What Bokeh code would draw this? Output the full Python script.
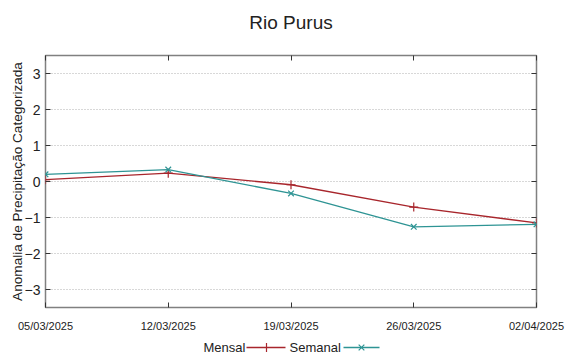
from bokeh.plotting import figure
from bokeh.layouts import column
from bokeh.models import Range1d, FixedTicker, LinearAxis, ColumnDataSource
from bokeh.core.properties import value
from bokeh.embed import file_html
from bokeh.resources import INLINE

title = "Rio Purus"
dates = ["05/03/2025", "12/03/2025", "19/03/2025", "26/03/2025", "02/04/2025"]
mensal = [0.05, 0.23, -0.09, -0.71, -1.15]
semanal = [0.20, 0.33, -0.33, -1.26, -1.19]
yticks = [-3, -2, -1, 0, 1, 2, 3]
series_names = ["Mensal", "Semanal"]

RED = "#a8262c"
TEAL = "#2e9494"
FONT = "Liberation Sans"
W = 576
BL, BR = 45, 40          # main frame borders (px); column aligns strip frames to it
FL, FR = BL, W - BR      # frame left/right in page pixels


def strip(h):
    # strips share the main frame's horizontal extent; range = page pixels
    f = figure(width=W, height=h, output_backend="svg", toolbar_location=None,
               x_range=Range1d(FL, FR), y_range=Range1d(0, h),
               x_axis_location=None, y_axis_location=None,
               min_border_left=BL, min_border_right=BR, min_border_top=0,
               min_border_bottom=0, outline_line_color=None)
    f.grid.visible = False
    return f


tt = strip(40)
tt.text(x=[290.5], y=[18], text=[title], text_align="center", text_baseline="middle",
        text_font=value(FONT), text_font_size="19px", text_color="#222222")

xs = list(range(len(dates)))
src = ColumnDataSource(dict(x=xs, m=mensal, s=semanal))

p = figure(width=W, height=300, output_backend="svg", toolbar_location=None,
           x_range=Range1d(0, len(dates) - 1), y_range=Range1d(-3.5, 3.5),
           min_border_left=BL, min_border_right=BR, min_border_top=15, min_border_bottom=33)
p.outline_line_color = "#808080"
p.outline_line_width = 1.5
p.xgrid.visible = False
p.ygrid.ticker = FixedTicker(ticks=yticks)
p.ygrid.grid_line_color = "#b0b0b0"
p.ygrid.grid_line_dash = "1 2"

xa = p.xaxis[0]
xa.ticker = FixedTicker(ticks=xs)
xa.major_label_overrides = {i: d for i, d in enumerate(dates)}
ya = p.yaxis[0]
ya.ticker = FixedTicker(ticks=yticks)
ya.axis_label = "Anomalia de Precipitação Categorizada"
for ax in (xa, ya):
    ax.axis_line_color = None
    ax.major_tick_in = 5
    ax.major_tick_out = 0
    ax.minor_tick_line_color = None
    ax.major_tick_line_color = "#333333"
    ax.major_label_text_font = FONT
    ax.major_label_text_color = "#222222"
xa.major_label_text_font_size = "11px"
xa.major_label_standoff = 12
ya.major_label_text_font_size = "14px"
ya.major_label_standoff = 5
ya.axis_label_text_font = FONT
ya.axis_label_text_font_size = "13.6px"
ya.axis_label_text_font_style = "normal"
ya.axis_label_text_color = "#222222"
ya.axis_label_standoff = -3

# mirrored ticks (no labels) on right and top, gnuplot style
ra = LinearAxis(ticker=FixedTicker(ticks=yticks), major_label_text_font_size="1px",
                major_label_text_color=None, major_label_standoff=0,
                axis_line_color=None, major_tick_in=5, major_tick_out=0,
                minor_tick_line_color=None, major_tick_line_color="#333333")
p.add_layout(ra, "right")
ta = LinearAxis(ticker=FixedTicker(ticks=xs), major_label_text_font_size="1px",
                major_label_text_color=None, major_label_standoff=0,
                axis_line_color=None, major_tick_in=5, major_tick_out=0,
                minor_tick_line_color=None, major_tick_line_color="#333333")
p.add_layout(ta, "above")

p.line("x", "m", source=src, line_color=RED, line_width=1.3)
p.scatter("x", "m", source=src, marker="cross", size=9, line_color=RED, line_width=1.2)
p.line("x", "s", source=src, line_color=TEAL, line_width=1.3)
p.scatter("x", "s", source=src, marker="x", size=8, line_color=TEAL, line_width=1.2)

# legend strip (gnuplot style: text then sample)
lg = strip(14)
lg.text(x=[203, 289], y=[7, 7], text=series_names, text_align="left",
        text_baseline="middle", text_font=value(FONT), text_font_size="13px",
        text_color="#222222")
lg.segment(x0=[246], y0=[7], x1=[285], y1=[7], line_color=RED, line_width=1.3)
lg.scatter(x=[266], y=[7], marker="cross", size=9, line_color=RED, line_width=1.2)
lg.segment(x0=[343], y0=[7], x1=[379], y1=[7], line_color=TEAL, line_width=1.3)
lg.scatter(x=[361], y=[7], marker="x", size=8, line_color=TEAL, line_width=1.2)

layout = column(tt, p, lg, spacing=0)
open("out.html", "w").write(file_html(layout, INLINE))
